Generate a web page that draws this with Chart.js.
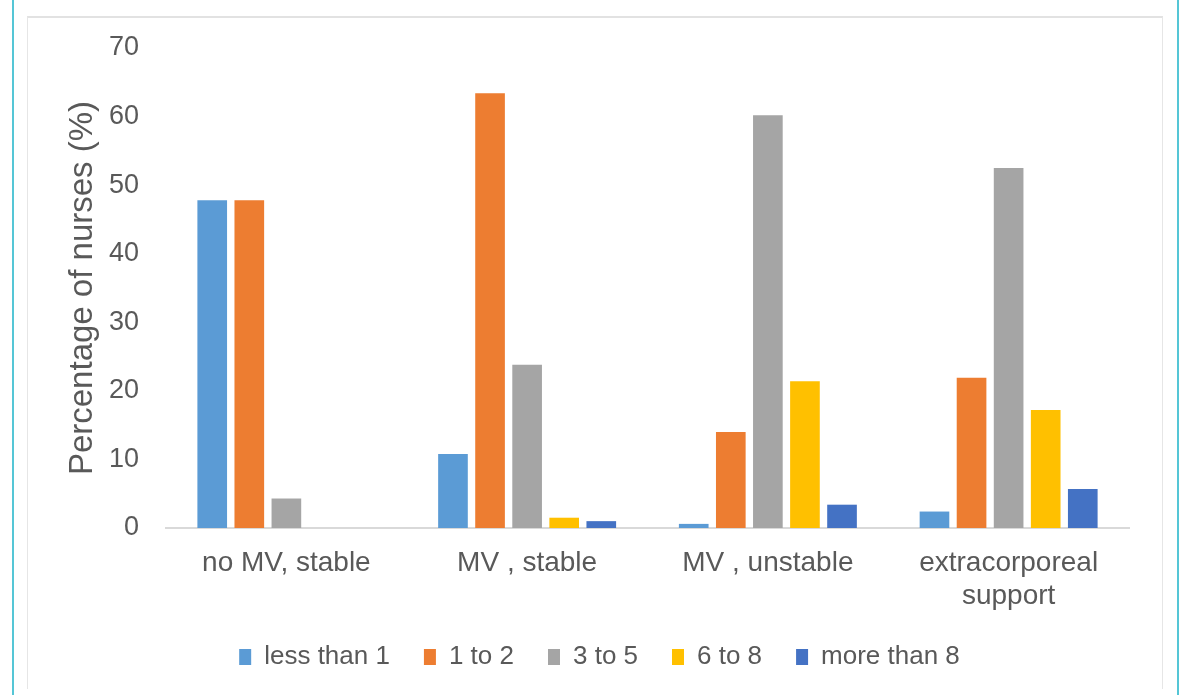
<!DOCTYPE html>
<html>
<head>
<meta charset="utf-8">
<script src="https://cdn.jsdelivr.net/npm/chart.js@4/dist/chart.umd.min.js"></script>
<style>
  html, body { margin: 0; padding: 0; background: #fff; }
  #wrap { position: relative; width: 1180px; height: 695px; overflow: hidden; }
  .edge { position: absolute; top: 0; width: 2px; height: 695px; background: #55c6d6; }
  #frame { position: absolute; left: 27px; top: 16px; width: 1134px; height: 671px;
           border-top: 2px solid #e2e2e2; border-left: 1px solid #e6e6e6; border-right: 1px solid #e6e6e6; }
  #c { position: absolute; left: 0; top: 0; }
</style>
</head>
<body>
<div id="wrap">
  <div class="edge" style="left:12px"></div>
  <div class="edge" style="left:1177px"></div>
  <div id="frame"></div>
  <canvas id="c" width="1180" height="695"></canvas>
</div>
<script>
// Share of nurses (%) by number of patients cared for, per patient category
const categories = ['no MV, stable', 'MV , stable', 'MV , unstable', ['extracorporeal', 'support']];
const seriesNames = ['less than 1', '1 to 2', '3 to 5', '6 to 8', 'more than 8'];
const lessThan1 = [47.8, 10.8, 0.6, 2.4];
const oneToTwo = [47.8, 63.4, 14.0, 21.9];
const threeToFive = [4.3, 23.8, 60.2, 52.5];
const sixToEight = [0, 1.5, 21.4, 17.2];
const moreThan8 = [0, 1.0, 3.4, 5.7];
const yTicks = [0, 10, 20, 30, 40, 50, 60, 70];
const colors = ['#5B9BD5', '#ED7D31', '#A5A5A5', '#FFC000', '#4472C4'];

const seriesValues = [lessThan1, oneToTwo, threeToFive, sixToEight, moreThan8];
const textColor = '#595959';
const fontFamily = '"Liberation Sans", Arial, sans-serif';

// The legend row sits centred on the whole frame rather than on the plot area.
const legendShift = {
  id: 'legendShift',
  afterLayout(chart) {
    if (chart.legend) {
      chart.legend.left += 35;
      chart.legend.right += 35;
    }
  }
};

new Chart(document.getElementById('c'), {
  type: 'bar',
  data: {
    labels: categories,
    datasets: seriesNames.map((name, i) => ({
      label: name,
      data: seriesValues[i],
      backgroundColor: colors[i],
      borderWidth: 0,
      categoryPercentage: 0.77,
      barPercentage: 0.8
    }))
  },
  plugins: [legendShift],
  options: {
    responsive: false,
    animation: false,
    layout: { padding: { top: 48, right: 51, bottom: 15, left: 0 } },
    plugins: {
      tooltip: { enabled: false },
      legend: {
        position: 'bottom',
        labels: {
          color: textColor,
          font: { family: fontFamily, size: 26 },
          boxWidth: 12,
          boxHeight: 16,
          padding: 34
        }
      }
    },
    scales: {
      x: {
        afterFit: (scale) => { scale.height = 82; },
        grid: { display: false, drawTicks: false },
        border: { display: true, color: '#d9d9d9', width: 2 },
        ticks: {
          color: textColor,
          font: { family: fontFamily, size: 28 },
          padding: 18,
          maxRotation: 0,
          autoSkip: false
        }
      },
      y: {
        min: 0,
        max: 70,
        afterBuildTicks: (scale) => { scale.ticks = yTicks.map(v => ({ value: v })); },
        afterFit: (scale) => { scale.width = 166; },
        grid: { display: false, drawTicks: false },
        border: { display: false },
        ticks: {
          color: textColor,
          font: { family: fontFamily, size: 27 },
          padding: 27
        },
        title: {
          display: true,
          text: 'Percentage of nurses (%)',
          color: textColor,
          font: { family: fontFamily, size: 33 },
          padding: { top: 63, bottom: 0 }
        }
      }
    }
  }
});
</script>
</body>
</html>
